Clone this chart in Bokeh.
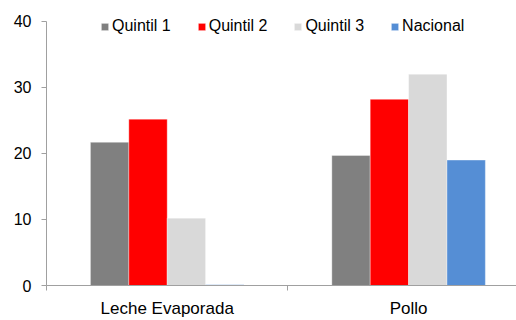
from bokeh.plotting import figure
from bokeh.models import Range1d, FixedTicker, ColumnDataSource
from bokeh.embed import file_html
from bokeh.resources import INLINE

# ---- data ----
categories = ["Leche Evaporada", "Pollo"]
series = ["Quintil 1", "Quintil 2", "Quintil 3", "Nacional"]
quintil_1 = [21.7, 19.7]
quintil_2 = [25.2, 28.2]
quintil_3 = [10.2, 32.0]
nacional = [0.1, 19.0]
colors = ["#808080", "#FF0000", "#D9D9D9", "#558ED5"]
y_ticks = [0, 10, 20, 30, 40]

values = [quintil_1, quintil_2, quintil_3, nacional]

# ---- layout ----
W, H = 516, 320
left, top, bottom = 46, 5, 34
y_top_px = 21            # where the value 40 sits
cat_px = 241.4
frame_w = W - left
frame_h = H - top - bottom
px_per_unit = (H - bottom - y_top_px) / 40.0
bar_w = 0.159

p = figure(width=W, height=H, output_backend="svg", toolbar_location=None,
           x_range=Range1d(0, frame_w / cat_px),
           y_range=Range1d(0, frame_h / px_per_unit),
           min_border_left=left, min_border_right=0, min_border_top=top,
           min_border_bottom=bottom, background_fill_color="white",
           border_fill_color="white")
p.outline_line_color = None
p.xgrid.visible = False
p.ygrid.visible = False

centers = [i + 0.5 for i in range(len(categories))]
for j, (name, vals, col) in enumerate(zip(series, values, colors)):
    xs = [c + (j - 1.5) * bar_w for c in centers]
    src = ColumnDataSource(dict(x=xs, top=vals, cat=categories))
    p.vbar(x="x", top="top", bottom=0, width=bar_w, source=src,
           fill_color=col, line_color="white", line_alpha=0.35, line_width=1,
           legend_label=name)

axis_col = "#a0a0a0"
font = "Liberation Sans"

# y axis
ya = p.yaxis[0]
ya.ticker = FixedTicker(ticks=y_ticks)
ya.bounds = (0, 40)
ya.axis_line_color = axis_col
ya.major_tick_line_color = axis_col
ya.major_tick_out = 5
ya.major_tick_in = 0
ya.minor_tick_line_color = None
ya.major_label_standoff = 10
ya.major_label_text_font = font
ya.major_label_text_font_size = "16px"
ya.major_label_text_color = "black"

# x axis
xa = p.xaxis[0]
xa.ticker = FixedTicker(ticks=centers, minor_ticks=list(range(len(categories) + 1)))
xa.major_label_overrides = {c: name for c, name in zip(centers, categories)}
xa.axis_line_color = axis_col
xa.major_tick_out = 0
xa.major_tick_in = 0
xa.minor_tick_line_color = axis_col
xa.minor_tick_out = 5
xa.minor_tick_in = 0
xa.major_label_standoff = 8
xa.major_label_text_font = font
xa.major_label_text_font_size = "17px"
xa.major_label_text_color = "black"

# legend
lg = p.legend[0]
lg.orientation = "horizontal"
lg.location = (54, 250)
lg.padding = 0
lg.margin = 0
lg.spacing = 26
lg.border_line_color = None
lg.background_fill_alpha = 0
lg.glyph_width = 9
lg.glyph_height = 9
lg.label_standoff = 3
lg.label_text_font = font
lg.label_text_font_size = "16px"
lg.label_text_color = "black"

open("out.html", "w").write(file_html(p, INLINE))
